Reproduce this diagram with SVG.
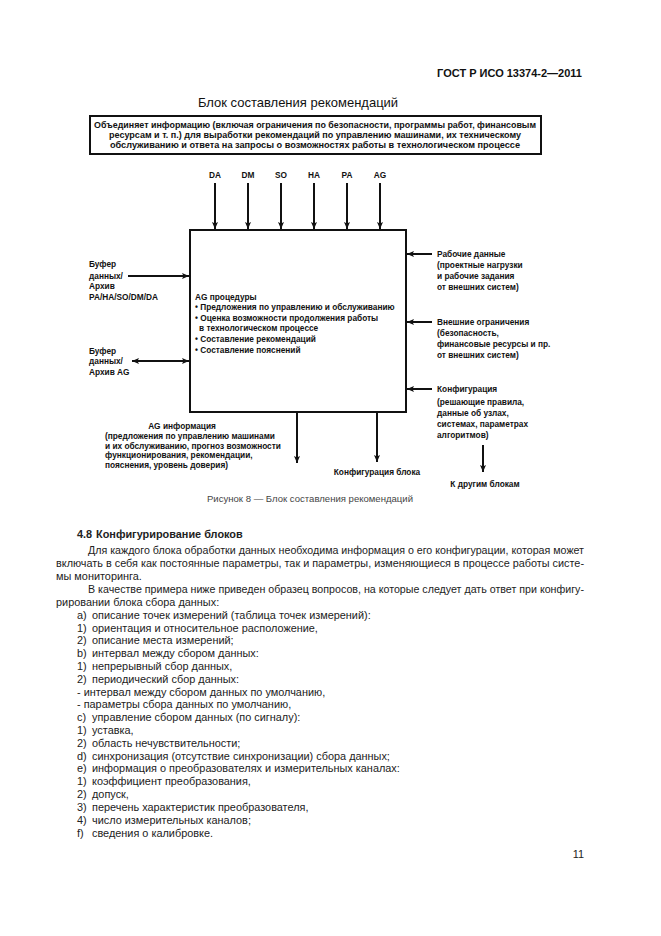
<svg xmlns="http://www.w3.org/2000/svg" width="661" height="936" viewBox="0 0 661 936">
<style>
.hd{font-family:"Liberation Sans",Arial,sans-serif;font-weight:bold;font-size:11px;fill:#111}
.ttl{font-family:"Liberation Sans",Arial,sans-serif;font-size:13px;fill:#111}
.d{font-family:"Liberation Sans",Arial,sans-serif;font-weight:bold;font-size:8.3px;fill:#111}
.ds{font-family:"Liberation Sans",Arial,sans-serif;font-weight:bold;font-size:8.3px;fill:#111}
.cap{font-family:"Liberation Sans",Arial,sans-serif;font-size:8.5px;fill:#444}
.b{font-family:"Liberation Sans",Arial,sans-serif;font-size:10.9px;fill:#222}
.bb{font-family:"Liberation Sans",Arial,sans-serif;font-size:10.9px;font-weight:bold;fill:#222}
.ln{stroke:#111;stroke-width:2;fill:none}
.bx{stroke:#111;stroke-width:2;fill:#fff}
</style>
<defs>
<marker id="ah" markerWidth="8" markerHeight="8" refX="7" refY="4" orient="auto" markerUnits="userSpaceOnUse">
<path d="M0,1 L7,4 L0,7 L1.5,4 Z" fill="#111"/>
</marker>
<marker id="ahs" markerWidth="8" markerHeight="8" refX="0" refY="4" orient="auto" markerUnits="userSpaceOnUse">
<path d="M7,1 L0,4 L7,7 L5.5,4 Z" fill="#111"/>
</marker>
</defs>
<rect width="661" height="936" fill="#fff"/>

<g id="page-header">
<text class="hd" x="582" y="77" text-anchor="end">ГОСТ Р ИСО 13374-2—2011</text>
</g>

<g id="title">
<text class="ttl" x="298" y="107" text-anchor="middle">Блок составления рекомендаций</text>
</g>

<g id="description">
<rect class="bx" x="90" y="116" width="451" height="38"/>
<text class="ds" x="315" y="128" text-anchor="middle" textLength="442" lengthAdjust="spacingAndGlyphs">Объединяет информацию (включая ограничения по безопасности, программы работ, финансовым</text>
<text class="ds" x="315" y="138" text-anchor="middle" textLength="412" lengthAdjust="spacingAndGlyphs">ресурсам и т. п.) для выработки рекомендаций по управлению машинами, их техническому</text>
<text class="ds" x="315" y="148" text-anchor="middle" textLength="410" lengthAdjust="spacingAndGlyphs">обслуживанию и ответа на запросы о возможностях работы в технологическом процессе</text>
</g>

<g id="ag-block">
<rect class="bx" x="190" y="230" width="216" height="182"/>
<text class="d" x="195" y="300">AG процедуры</text>
<text class="d" x="195" y="310">• Предложения по управлению и обслуживанию</text>
<text class="d" x="195" y="320.5">• Оценка возможности продолжения работы</text>
<text class="d" x="199" y="331">в технологическом процессе</text>
<text class="d" x="195" y="342">• Составление рекомендаций</text>
<text class="d" x="195" y="353">• Составление пояснений</text>
</g>

<g id="inputs-top">
<text class="d" x="215" y="178" text-anchor="middle">DA</text>
<text class="d" x="248" y="178" text-anchor="middle">DM</text>
<text class="d" x="281" y="178" text-anchor="middle">SO</text>
<text class="d" x="314" y="178" text-anchor="middle">HA</text>
<text class="d" x="347" y="178" text-anchor="middle">PA</text>
<text class="d" x="380" y="178" text-anchor="middle">AG</text>
</g>

<g id="buffer-1">
<text class="d" x="89" y="267">Буфер</text>
<text class="d" x="89" y="279">данных/</text>
<text class="d" x="89" y="289">Архив</text>
<text class="d" x="89" y="300">PA/HA/SO/DM/DA</text>
</g>

<g id="buffer-ag">
<text class="d" x="89" y="354">Буфер</text>
<text class="d" x="89" y="364">данных/</text>
<text class="d" x="89" y="375">Архив AG</text>
</g>

<g id="work-data">
<text class="d" x="437" y="257">Рабочие данные</text>
<text class="d" x="437" y="268">(проектные нагрузки</text>
<text class="d" x="437" y="279">и рабочие задания</text>
<text class="d" x="437" y="290">от внешних систем)</text>
</g>

<g id="ext-constraints">
<text class="d" x="437" y="325">Внешние ограничения</text>
<text class="d" x="437" y="336">(безопасность,</text>
<text class="d" x="437" y="347">финансовые ресурсы и пр.</text>
<text class="d" x="437" y="358">от внешних систем)</text>
</g>

<g id="configuration">
<text class="d" x="437" y="392">Конфигурация</text>
<text class="d" x="437" y="405">(решающие правила,</text>
<text class="d" x="437" y="416">данные об узлах,</text>
<text class="d" x="437" y="427">системах, параметрах</text>
<text class="d" x="437" y="438">алгоритмов)</text>
</g>

<g id="ag-info">
<text class="d" x="182" y="429" text-anchor="middle">AG информация</text>
<text class="d" x="105" y="439">(предложения по управлению машинами</text>
<text class="d" x="105" y="449">и их обслуживанию, прогноз возможности</text>
<text class="d" x="105" y="458">функционирования, рекомендации,</text>
<text class="d" x="105" y="468">пояснения, уровень доверия)</text>
</g>

<g id="block-config">
<text class="d" x="377" y="475" text-anchor="middle">Конфигурация блока</text>
</g>

<g id="other-blocks">
<text class="d" x="485" y="487" text-anchor="middle">К другим блокам</text>
</g>

<g id="connectors">
<line class="ln" x1="215" y1="183" x2="215" y2="229" marker-end="url(#ah)"/>
<line class="ln" x1="248" y1="183" x2="248" y2="229" marker-end="url(#ah)"/>
<line class="ln" x1="281" y1="183" x2="281" y2="229" marker-end="url(#ah)"/>
<line class="ln" x1="314" y1="183" x2="314" y2="229" marker-end="url(#ah)"/>
<line class="ln" x1="347" y1="183" x2="347" y2="229" marker-end="url(#ah)"/>
<line class="ln" x1="380" y1="183" x2="380" y2="229" marker-end="url(#ah)"/>
<line class="ln" x1="128" y1="276" x2="189" y2="276" marker-end="url(#ah)"/>
<line class="ln" x1="132" y1="361" x2="189" y2="361" marker-start="url(#ahs)" marker-end="url(#ah)"/>
<line class="ln" x1="432" y1="254" x2="407" y2="254" marker-end="url(#ah)"/>
<line class="ln" x1="432" y1="322" x2="407" y2="322" marker-end="url(#ah)"/>
<line class="ln" x1="432" y1="389" x2="407" y2="389" marker-end="url(#ah)"/>
<line class="ln" x1="297" y1="413" x2="297" y2="463" marker-end="url(#ah)"/>
<line class="ln" x1="377" y1="413" x2="377" y2="462" marker-end="url(#ah)"/>
<line class="ln" x1="483" y1="445" x2="483" y2="472" marker-end="url(#ah)"/>
</g>

<g id="caption">
<text class="cap" x="310" y="502" text-anchor="middle" textLength="206" lengthAdjust="spacingAndGlyphs">Рисунок 8 — Блок составления рекомендаций</text>
</g>

<g id="body-text">
<text class="bb" x="77" y="538">4.8<tspan x="96">Конфигурирование блоков</tspan></text>
<text class="b" x="88" y="554" textLength="496" lengthAdjust="spacingAndGlyphs">Для каждого блока обработки данных необходима информация о его конфигурации, которая может</text>
<text class="b" x="56" y="567" textLength="528" lengthAdjust="spacingAndGlyphs">включать в себя как постоянные параметры, так и параметры, изменяющиеся в процессе работы систе-</text>
<text class="b" x="56" y="580">мы мониторинга.</text>
<text class="b" x="88" y="593" textLength="496" lengthAdjust="spacingAndGlyphs">В качестве примера ниже приведен образец вопросов, на которые следует дать ответ при конфигу-</text>
<text class="b" x="56" y="606">рировании блока сбора данных:</text>
<text class="b" x="77" y="619">a)<tspan x="92">описание точек измерений (таблица точек измерений):</tspan></text>
<text class="b" x="77" y="632">1)<tspan x="92">ориентация и относительное расположение,</tspan></text>
<text class="b" x="77" y="644">2)<tspan x="92">описание места измерений;</tspan></text>
<text class="b" x="77" y="657">b)<tspan x="92">интервал между сбором данных:</tspan></text>
<text class="b" x="77" y="670">1)<tspan x="92">непрерывный сбор данных,</tspan></text>
<text class="b" x="77" y="683">2)<tspan x="92">периодический сбор данных:</tspan></text>
<text class="b" x="77" y="696">- интервал между сбором данных по умолчанию,</text>
<text class="b" x="77" y="708">- параметры сбора данных по умолчанию,</text>
<text class="b" x="77" y="721">c)<tspan x="92">управление сбором данных (по сигналу):</tspan></text>
<text class="b" x="77" y="734">1)<tspan x="92">уставка,</tspan></text>
<text class="b" x="77" y="747">2)<tspan x="92">область нечувствительности;</tspan></text>
<text class="b" x="77" y="760">d)<tspan x="92">синхронизация (отсутствие синхронизации) сбора данных;</tspan></text>
<text class="b" x="77" y="772">e)<tspan x="92">информация о преобразователях и измерительных каналах:</tspan></text>
<text class="b" x="77" y="785">1)<tspan x="92">коэффициент преобразования,</tspan></text>
<text class="b" x="77" y="798">2)<tspan x="92">допуск,</tspan></text>
<text class="b" x="77" y="811">3)<tspan x="92">перечень характеристик преобразователя,</tspan></text>
<text class="b" x="77" y="824">4)<tspan x="92">число измерительных каналов;</tspan></text>
<text class="b" x="77" y="837">f)<tspan x="92">сведения о калибровке.</tspan></text>
</g>

<g id="page-number">
<text class="b" x="584" y="858" text-anchor="end">11</text>
</g>
</svg>
